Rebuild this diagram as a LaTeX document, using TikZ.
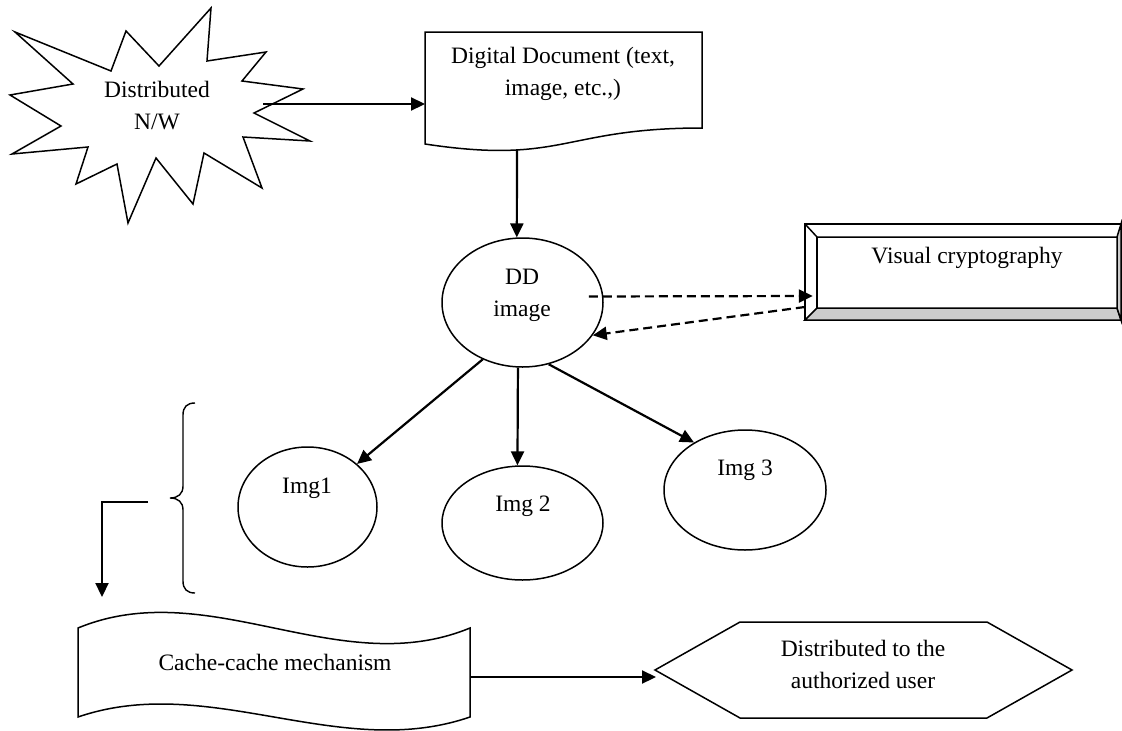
\documentclass[tikz,border=0pt]{standalone}
\usepackage{fontspec}
\setmainfont{Liberation Serif}
\usetikzlibrary{arrows.meta,shapes.geometric}
\begin{document}
\begin{tikzpicture}[x=1pt,y=-1pt,
  shp/.style={draw=black,line width=1.5pt},
  lbl/.style={font=\fontsize{23.5}{32}\selectfont,align=center,inner sep=0pt},
  arr/.style={line width=2.2pt,-{Triangle[length=14pt,width=13pt]}},
  darr/.style={arr,dash pattern=on 9pt off 5pt},
  ell/.style={shp,ellipse,inner sep=0pt}]
\useasboundingbox (0,0) rectangle (1122,731);
% star (Distributed N/W)
\draw[shp] (15,32) -- (111,71) -- (126,31) -- (159,66) -- (211,8) -- (207,61) -- (266,52) -- (242,81) -- (303,89) -- (254,113) -- (310,141) -- (243,137) -- (262,188) -- (204,153) -- (193,204) -- (156,158) -- (128,223) -- (117,164) -- (76,184) -- (88,147) -- (12,154) -- (61,126) -- (10,95) -- (73,84) -- cycle;
\node[lbl] (net) at (157,106) {Distributed\\N/W};
% document
\draw[shp] (425,32) -- (702,32) -- (702,128) .. controls (563,128) and (563,165) .. (425,144) -- cycle;
\node[lbl] (doc) at (563,74) {Digital Document (text,\\image, etc.,)};
\coordinate (netout) at (263,104);
\coordinate (docW) at (425,104);
\coordinate (docB) at (517,150);
\draw[arr] (netout) -- (docW);
% DD image
\node[ell,minimum width=161pt,minimum height=129pt] (DD) at (522.5,302.5) {};
\node[lbl] (ddtext) at (522,295) {DD\\image};
\draw[arr] (docB) -- (DD.95);
% Visual cryptography bevel box
\node[minimum width=316pt,minimum height=96pt,inner sep=0pt] (vc) at (963,272) {};
\draw[shp,fill=white] (805,224) rectangle (1121,320);
\filldraw[shp,fill=gray!40] (805,320) -- (817,308) -- (1117,308) -- (1121,320) -- cycle;
\filldraw[shp,fill=gray!40] (1121,224) -- (1117,237) -- (1117,308) -- (1121,320) -- cycle;
\draw[shp] (805,224) -- (817,237) -- (1117,237);
\draw[shp] (817,237) -- (817,308);
\node[lbl] (vctext) at (967,258) {Visual cryptography};
\draw[darr] ([xshift=-15pt,yshift=6pt]DD.east) -- ([xshift=8pt,yshift=-24pt]vc.west);
\draw[darr] ([yshift=-35pt]vc.west) -- (DD.-25);
% image shares
\node[ell,minimum width=139pt,minimum height=120pt] (I1) at (307.5,507) {};
\node[ell,minimum width=161pt,minimum height=114pt] (I2) at (522.5,523) {};
\node[ell,minimum width=162pt,minimum height=120pt] (I3) at (745,490) {};
\node[lbl] (i1text) at (307,488) {Img1};
\node[lbl] (i2text) at (523,506) {Img 2};
\node[lbl] (i3text) at (745,470) {Img 3};
\draw[arr] (DD.-125) -- (I1.41);
\draw[arr] (DD.-94) -- (I2.95);
\draw[arr] (DD.-67) -- (I3.137);
% brace
\draw[line width=1.4pt] (195,403) .. controls (187,403) and (183,407) .. (183,415) -- (183,486) .. controls (183,494) and (178,498) .. (170,498) .. controls (178,498) and (183,502) .. (183,510) -- (183,581) .. controls (183,589) and (187,593) .. (195,593);
% elbow arrow
\coordinate (e1) at (148,502);
\coordinate (e2) at (102,597);
\draw[arr] (e1) -- (e1 -| e2) -- (e2);
% cache-cache mechanism (punched tape)
\draw[shp] (78,628) .. controls (209,574) and (339,682) .. (470,628) -- (470,717) .. controls (339,762) and (209,672) .. (78,717) -- cycle;
\node[lbl] (cache) at (275,662) {Cache-cache mechanism};
% hexagon
\draw[shp] (655,670) -- (740,622) -- (987,622) -- (1072,670) -- (987,718) -- (740,718) -- cycle;
\node[lbl] (hex) at (863,664) {Distributed to the\\authorized user};
\coordinate (cacheE) at (470,677);
\coordinate (hexW) at (656,677);
\draw[arr] (cacheE) -- (hexW);
\end{tikzpicture}
\end{document}
